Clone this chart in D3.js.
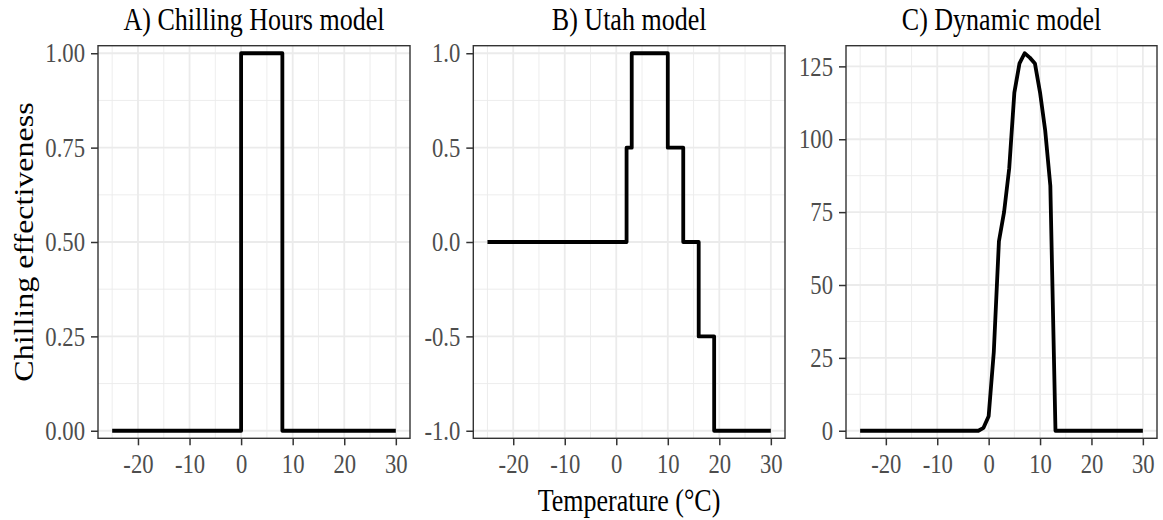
<!DOCTYPE html>
<html>
<head>
<meta charset="utf-8">
<script src="https://cdn.jsdelivr.net/npm/d3@7"></script>
<style>
  body { margin: 0; background: #ffffff; }
  svg { display: block; }
</style>
</head>
<body>
<div id="chart"></div>
<script>
// chilling hours model (step after each temperature)
const chTemp = [-25, 0, 8, 30];
const chValue = [0, 1, 0, 0];

// utah model (step after each temperature)
const utahTemp = [-25, 2, 3, 10, 13, 16, 19, 30];
const utahValue = [0, 0.5, 1, 0.5, 0, -0.5, -1, -1];

// dynamic model
const dynTemp = [-25, -3, -2, -1, 0, 1, 2, 3, 4, 5, 6, 7, 8, 9, 10, 11, 12, 13, 30];
const dynValue = [0, 0, 0, 1, 5, 27, 65, 75, 90, 116, 126, 129.5, 128, 126, 116, 103, 84, 0, 0];

// axis ticks
const xTicks = [-20, -10, 0, 10, 20, 30];
const xTickLabels = ["-20", "-10", "0", "10", "20", "30"];
const chTicks = [0, 0.25, 0.5, 0.75, 1];
const chTickLabels = ["0.00", "0.25", "0.50", "0.75", "1.00"];
const utahTicks = [-1, -0.5, 0, 0.5, 1];
const utahTickLabels = ["-1.0", "-0.5", "0.0", "0.5", "1.0"];
const dynTicks = [0, 25, 50, 75, 100, 125];
const dynTickLabels = ["0", "25", "50", "75", "100", "125"];

const titles = ["A) Chilling Hours model", "B) Utah model", "C) Dynamic model"];
const xTitle = "Temperature (\u00B0C)";
const yTitle = "Chilling effectiveness";

let width = 1163;
let height = 520;
let plotTop = 45.7, plotBottom = 438.3;
let squeeze = 0.84; // text in the reference is narrowed horizontally
let font = "'Liberation Serif', 'Times New Roman', serif";

let svg = d3.select("#chart")
    .append("svg")
    .attr("width", width)
    .attr("height", height);

let panels = [
    { left: 98, right: 410, temp: chTemp, value: chValue, ticks: chTicks, labels: chTickLabels, step: true },
    { left: 473.3, right: 785, temp: utahTemp, value: utahValue, ticks: utahTicks, labels: utahTickLabels, step: true },
    { left: 846, right: 1157, temp: dynTemp, value: dynValue, ticks: dynTicks, labels: dynTickLabels, step: false }
];

panels.forEach((p, i) => {
    // x scale with ggplot-like 5% expansion
    let xExt = d3.extent(p.temp);
    let xPad = (xExt[1] - xExt[0]) * 0.05;
    let x = d3.scaleLinear()
        .domain([xExt[0] - xPad, xExt[1] + xPad])
        .range([p.left, p.right]);

    // y scale with a small expansion
    let yExt = d3.extent(p.value);
    let yPad = (yExt[1] - yExt[0]) * 0.02;
    let y = d3.scaleLinear()
        .domain([yExt[0] - yPad, yExt[1] + yPad])
        .range([plotBottom, plotTop]);

    let g = svg.append("g");

    // minor grid lines half way between the major ticks
    let xMinor = xTicks.slice(0, -1).map((d, k) => (d + xTicks[k + 1]) / 2);
    xMinor.unshift(xTicks[0] - 5);
    let yMinor = p.ticks.slice(0, -1).map((d, k) => (d + p.ticks[k + 1]) / 2);

    g.selectAll(".xminor").data(xMinor).enter().append("line")
        .attr("x1", d => x(d)).attr("x2", d => x(d))
        .attr("y1", plotTop).attr("y2", plotBottom)
        .attr("stroke", "#ebebeb").attr("stroke-width", 0.9);
    g.selectAll(".yminor").data(yMinor).enter().append("line")
        .attr("x1", p.left).attr("x2", p.right)
        .attr("y1", d => y(d)).attr("y2", d => y(d))
        .attr("stroke", "#ebebeb").attr("stroke-width", 0.9);
    g.selectAll(".xmajor").data(xTicks).enter().append("line")
        .attr("x1", d => x(d)).attr("x2", d => x(d))
        .attr("y1", plotTop).attr("y2", plotBottom)
        .attr("stroke", "#ebebeb").attr("stroke-width", 1.8);
    g.selectAll(".ymajor").data(p.ticks).enter().append("line")
        .attr("x1", p.left).attr("x2", p.right)
        .attr("y1", d => y(d)).attr("y2", d => y(d))
        .attr("stroke", "#ebebeb").attr("stroke-width", 1.8);

    // the response line
    let pts = p.temp.map((t, k) => [t, p.value[k]]);
    let line = d3.line()
        .x(d => x(d[0]))
        .y(d => y(d[1]))
        .curve(p.step ? d3.curveStepAfter : d3.curveLinear);
    g.append("path")
        .datum(pts)
        .attr("d", line)
        .attr("fill", "none")
        .attr("stroke", "#000000")
        .attr("stroke-width", 3.8)
        .attr("stroke-linejoin", "round")
        .attr("stroke-linecap", "butt");

    // panel border
    g.append("rect")
        .attr("x", p.left).attr("y", plotTop)
        .attr("width", p.right - p.left).attr("height", plotBottom - plotTop)
        .attr("fill", "none")
        .attr("stroke", "#333333")
        .attr("stroke-width", 1.4);

    // x axis
    let xAxis = g.append("g")
        .attr("transform", `translate(0, ${plotBottom})`)
        .call(d3.axisBottom(x).tickValues(xTicks)
            .tickFormat((d, k) => xTickLabels[k])
            .tickSize(7).tickPadding(9).tickSizeOuter(0));
    xAxis.select(".domain").remove();
    xAxis.selectAll("line").attr("stroke", "#333333").attr("stroke-width", 1.5);
    xAxis.selectAll("text")
        .attr("fill", "#4d4d4d")
        .style("font-family", font)
        .style("font-size", "27px")
        .attr("transform", `scale(${squeeze},1)`);

    // y axis
    let yAxis = g.append("g")
        .attr("transform", `translate(${p.left}, 0)`)
        .call(d3.axisLeft(y).tickValues(p.ticks)
            .tickFormat((d, k) => p.labels[k])
            .tickSize(7).tickPadding(6).tickSizeOuter(0));
    yAxis.select(".domain").remove();
    yAxis.selectAll("line").attr("stroke", "#333333").attr("stroke-width", 1.5);
    yAxis.selectAll("text")
        .attr("fill", "#4d4d4d")
        .attr("x", -13 / squeeze)
        .style("font-family", font)
        .style("font-size", "27px")
        .attr("transform", `scale(${squeeze},1)`);

    // panel title
    svg.append("text")
        .attr("transform", `translate(${(p.left + p.right) / 2}, 30) scale(${squeeze},1)`)
        .attr("text-anchor", "middle")
        .style("font-family", font)
        .style("font-size", "31px")
        .attr("fill", "#000000")
        .text(titles[i]);
});

// shared axis titles
svg.append("text")
    .attr("transform", `translate(629, 511) scale(${squeeze},1)`)
    .attr("text-anchor", "middle")
    .style("font-family", font)
    .style("font-size", "31px")
    .attr("fill", "#000000")
    .text(xTitle);

svg.append("text")
    .attr("transform", `translate(33, 242) scale(${squeeze},1) rotate(-90)`)
    .attr("text-anchor", "middle")
    .style("font-family", font)
    .style("font-size", "32px")
    .attr("fill", "#000000")
    .text(yTitle);
</script>
</body>
</html>
